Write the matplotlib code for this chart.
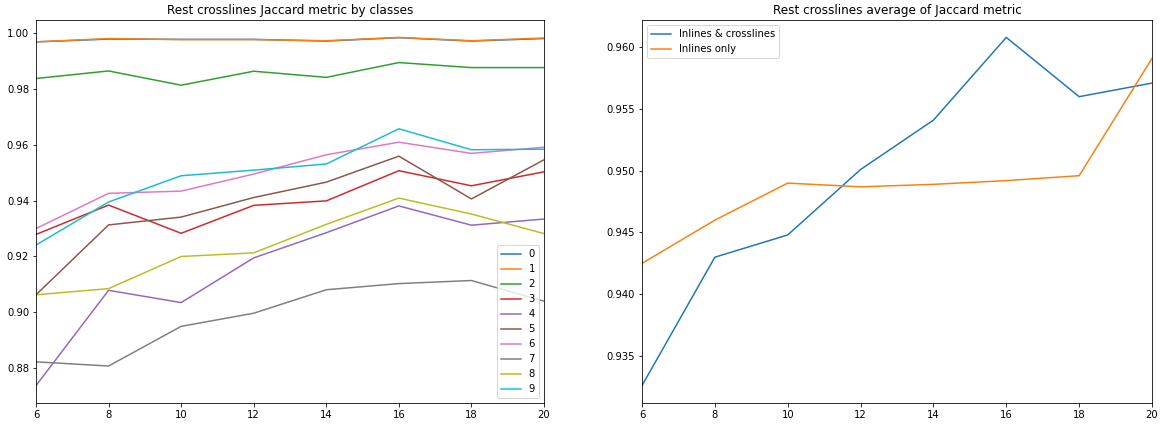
import matplotlib.pyplot as plt

# x values (number of inlines used for training)
steps = [6, 8, 10, 12, 14, 16, 18, 20]

# Jaccard per class
class_0 = [0.9968, 0.9978, 0.9977, 0.9977, 0.9971, 0.9983, 0.9971, 0.9980]
class_1 = [0.9968, 0.9980, 0.9976, 0.9976, 0.9972, 0.9984, 0.9972, 0.9982]
class_2 = [0.9837, 0.9864, 0.9813, 0.9863, 0.9841, 0.9894, 0.9876, 0.9876]
class_3 = [0.9279, 0.9384, 0.9283, 0.9383, 0.9399, 0.9507, 0.9453, 0.9503]
class_4 = [0.8738, 0.9079, 0.9035, 0.9195, 0.9285, 0.9381, 0.9312, 0.9334]
class_5 = [0.9063, 0.9313, 0.9341, 0.9411, 0.9466, 0.9559, 0.9406, 0.9546]
class_6 = [0.9300, 0.9426, 0.9434, 0.9495, 0.9564, 0.9609, 0.9569, 0.9591]
class_7 = [0.8823, 0.8808, 0.8950, 0.8997, 0.9081, 0.9103, 0.9114, 0.9040]
class_8 = [0.9063, 0.9085, 0.9200, 0.9213, 0.9315, 0.9409, 0.9352, 0.9282]
class_9 = [0.9241, 0.9395, 0.9489, 0.9509, 0.9531, 0.9657, 0.9582, 0.9584]
classes = [class_0, class_1, class_2, class_3, class_4,
           class_5, class_6, class_7, class_8, class_9]
class_labels = [str(i) for i in range(10)]

# average Jaccard
avg_both = [0.9326, 0.9430, 0.9448, 0.9501, 0.9541, 0.9608, 0.9560, 0.9571]
avg_inlines = [0.9425, 0.9460, 0.9490, 0.9487, 0.9489, 0.9492, 0.9496, 0.9591]

W, H = 1165, 427
fig = plt.figure(figsize=(W / 72, H / 72), dpi=72)
ax1 = fig.add_axes([36 / W, 24 / H, 508 / W, 383 / H])
ax2 = fig.add_axes([642 / W, 24 / H, 510 / W, 383 / H])

# left: per class
for vals, lab in zip(classes, class_labels):
    ax1.plot(steps, vals, label=lab)
ax1.set_xlim(6, 20)
ax1.set_title("Rest crosslines Jaccard metric by classes")
ax1.legend(loc="lower right")

# right: averages
ax2.plot(steps, avg_both, label="Inlines & crosslines")
ax2.plot(steps, avg_inlines, label="Inlines only")
ax2.set_xlim(6, 20)
ax2.set_title("Rest crosslines average of Jaccard metric")
ax2.legend(loc="upper left")

fig.savefig("out.png", dpi=72)
